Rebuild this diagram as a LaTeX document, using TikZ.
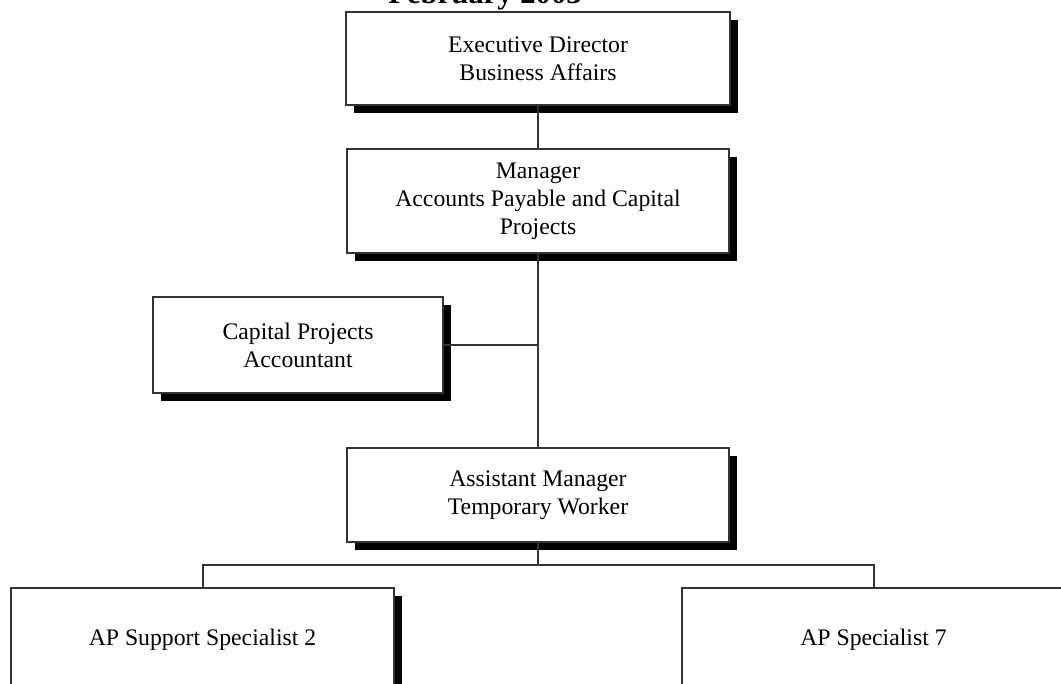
\documentclass[tikz,border=0pt]{standalone}
\usepackage{fontspec}
\setmainfont{Liberation Serif}
\usetikzlibrary{positioning, shadows}

\tikzset{
	post/.style={draw=black!80, line width=1.5pt, fill=white, align=center,
		font=\fontsize{17.8}{21}\selectfont, inner sep=2pt,
		general shadow={fill=black, shadow xshift=6pt, shadow yshift=-6pt}},
	link/.style={draw=black!80, line width=1.5pt}
}

\begin{document}
\begin{tikzpicture}[x=0.75pt, y=-0.75pt]
	\useasboundingbox (0,0) rectangle (1061,684);
	\node[anchor=base, font=\fontsize{23}{26}\selectfont\bfseries] (date) at (485,4) {February 2003};

	\node[post, minimum width=288pt, minimum height=70pt] (exec) at (538,58.5) {Executive Director\\Business Affairs};
	\node[post, minimum width=286.5pt, minimum height=78pt, below=31.5pt of exec] (manager) {Manager\\Accounts Payable and Capital\\Projects};
	\node[post, minimum width=286.5pt, minimum height=70pt, below=144.75pt of manager] (assistant) {Assistant Manager\\Temporary Worker};
	\node[post, minimum width=217.5pt, minimum height=72pt] (capital) at (298,345) {Capital Projects\\Accountant};
	\node[post, minimum width=287pt, minimum height=78pt] (support) at (202.5,640) {AP Support Specialist 2};
	\node[post, minimum width=287pt, minimum height=78pt] (specialist) at (873.5,640) {AP Specialist 7};
	\coordinate (split) at (538,565);

	\draw[link] (exec) -- (manager);
	\draw[link] (manager) -- (assistant);
	\draw[link] (capital.east) -- (capital.east -| manager.south);
	\draw[link] (assistant) -- (split);
	\draw[link] (support.north) |- (split) -| (specialist.north);
\end{tikzpicture}
\end{document}
